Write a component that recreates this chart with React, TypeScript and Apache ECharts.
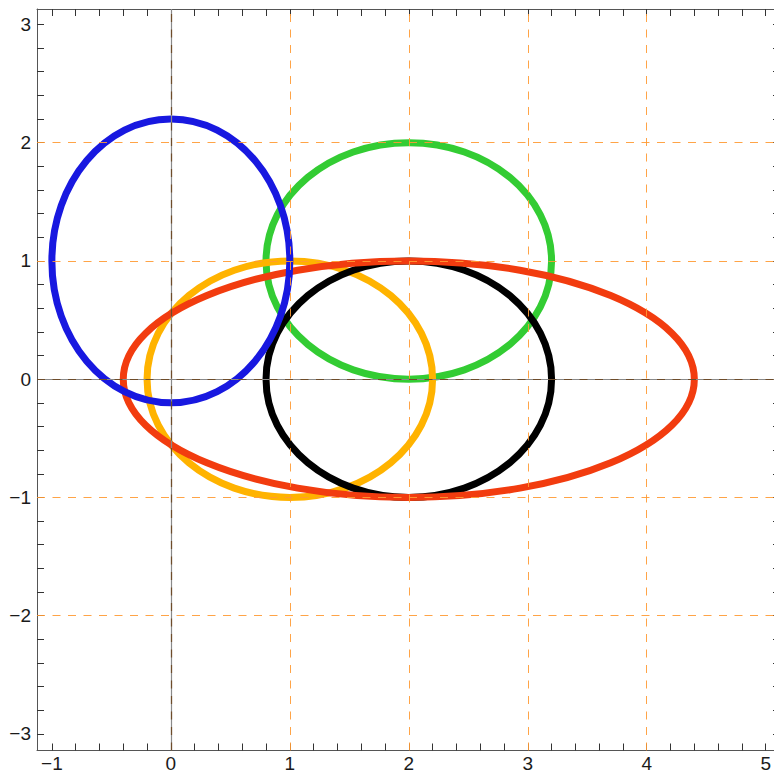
import React, { useEffect, useRef } from 'react';
import * as echarts from 'echarts';

// Axis ranges
const X_MIN = -1.125;
const X_MAX = 5.12;
const Y_MIN = -3.14;
const Y_MAX = 3.13;

// Tick labels
const xTickLabels = [-1, 0, 1, 2, 3, 4, 5];
const yTickLabels = [-3, -2, -1, 0, 1, 2, 3];

// Dashed grid lines
const xGridLines = [1, 2, 3, 4];
const yGridLines = [-2, -1, 1, 2];

// Ellipses (drawing order)
const ellipseNames = ['green', 'orange', 'black', 'red', 'blue'];
const centerX = [2, 1, 2, 2, 0];
const centerY = [1, 0, 0, 0, 1];
const radiusX = [1.2, 1.2, 1.2, 2.4, 1];
const radiusY = [1, 1, 1, 1, 1.2];
const ellipseColors = ['#33cc33', '#ffb300', '#000000', '#f23c0f', '#1818e0'];

const minorStep = 0.2;
function tickValues(from: number, to: number): number[] {
  const out: number[] = [];
  const n = Math.round((to - from) / minorStep);
  for (let i = 0; i <= n; i++) out.push(Math.round((from + i * minorStep) * 10) / 10);
  return out;
}
const xTicks = tickValues(-1, 5);
const yTicks = tickValues(-3, 3);

const fmt = (v: number) => String(v).replace('-', '\u2212');

export default function App() {
  const ref = useRef<HTMLDivElement>(null);
  useEffect(() => {
    document.body.style.margin = '0';
    document.body.style.overflow = 'hidden';
    if (!ref.current) return;
    const chart = echarts.init(ref.current, undefined, { renderer: 'svg' });

    const tickStyle = { inside: true, length: 7, lineStyle: { color: '#333', width: 1 } };
    const labelStyle = {
      fontSize: 19,
      lineHeight: 19,
      color: '#1a1a1a',
      fontFamily: 'Liberation Sans',
      formatter: fmt,
    };
    const frameLine = { show: true, onZero: false, lineStyle: { color: '#555', width: 1 } };

    const data = ellipseNames.map((_, i) => [centerX[i], centerY[i], radiusX[i], radiusY[i]]);

    const option: any = {
      animation: false,
      grid: { left: 37, right: 0, top: 9, bottom: 22.5, outerBoundsMode: 'none', containLabel: false },
      xAxis: [
        {
          type: 'value', min: X_MIN, max: X_MAX, position: 'bottom',
          axisLine: frameLine,
          axisTick: { ...tickStyle, customValues: xTicks },
          axisLabel: { ...labelStyle, customValues: xTickLabels, margin: 3 },
          splitLine: { show: false },
        },
        {
          type: 'value', min: X_MIN, max: X_MAX, position: 'top',
          axisLine: frameLine,
          axisTick: { ...tickStyle, customValues: xTicks },
          axisLabel: { show: false },
          splitLine: { show: false },
        },
      ],
      yAxis: [
        {
          type: 'value', min: Y_MIN, max: Y_MAX, position: 'left',
          axisLine: frameLine,
          axisTick: { ...tickStyle, customValues: yTicks },
          axisLabel: { ...labelStyle, customValues: yTickLabels, margin: 6 },
          splitLine: { show: false },
        },
        {
          type: 'value', min: Y_MIN, max: Y_MAX, position: 'right',
          axisLine: frameLine,
          axisTick: { ...tickStyle, customValues: yTicks },
          axisLabel: { show: false },
          splitLine: { show: false },
        },
      ],
      series: [
        {
          type: 'custom',
          name: 'ellipses',
          z: 2,
          silent: true,
          data,
          renderItem: (params: any, api: any) => {
            const c = api.coord([api.value(0), api.value(1)]);
            const s = api.size([api.value(2), api.value(3)], [api.value(0), api.value(1)]);
            return {
              type: 'ellipse',
              shape: { cx: c[0], cy: c[1], rx: s[0], ry: s[1] },
              style: { fill: 'none', stroke: ellipseColors[params.dataIndex], lineWidth: 7 },
            };
          },
        },
        {
          type: 'line',
          name: 'grid',
          data: [],
          z: 5,
          silent: true,
          markLine: {
            silent: true,
            symbol: ['none', 'none'],
            label: { show: false },
            lineStyle: { type: [8, 7.5], color: '#ff9a33', width: 1, opacity: 0.9 },
            data: [
              ...xGridLines.map((v) => ({ xAxis: v })),
              ...yGridLines.map((v) => ({ yAxis: v })),
            ],
          },
        },
        {
          type: 'line',
          name: 'axes',
          data: [],
          z: 6,
          silent: true,
          markLine: {
            silent: true,
            symbol: ['none', 'none'],
            label: { show: false },
            lineStyle: { type: 'solid', color: '#8a8a8a', width: 1.2 },
            data: [{ xAxis: 0 }, { yAxis: 0 }],
          },
        },
        {
          type: 'line',
          name: 'axesDash',
          data: [],
          z: 7,
          silent: true,
          markLine: {
            silent: true,
            symbol: ['none', 'none'],
            label: { show: false },
            lineStyle: { type: [8, 7.5], color: '#6e4c2a', width: 1.2 },
            data: [{ xAxis: 0 }, { yAxis: 0 }],
          },
        },
      ],
    };
    chart.setOption(option);
    return () => chart.dispose();
  }, []);
  return <div ref={ref} style={{ width: 780, height: 773 }} />;
}
